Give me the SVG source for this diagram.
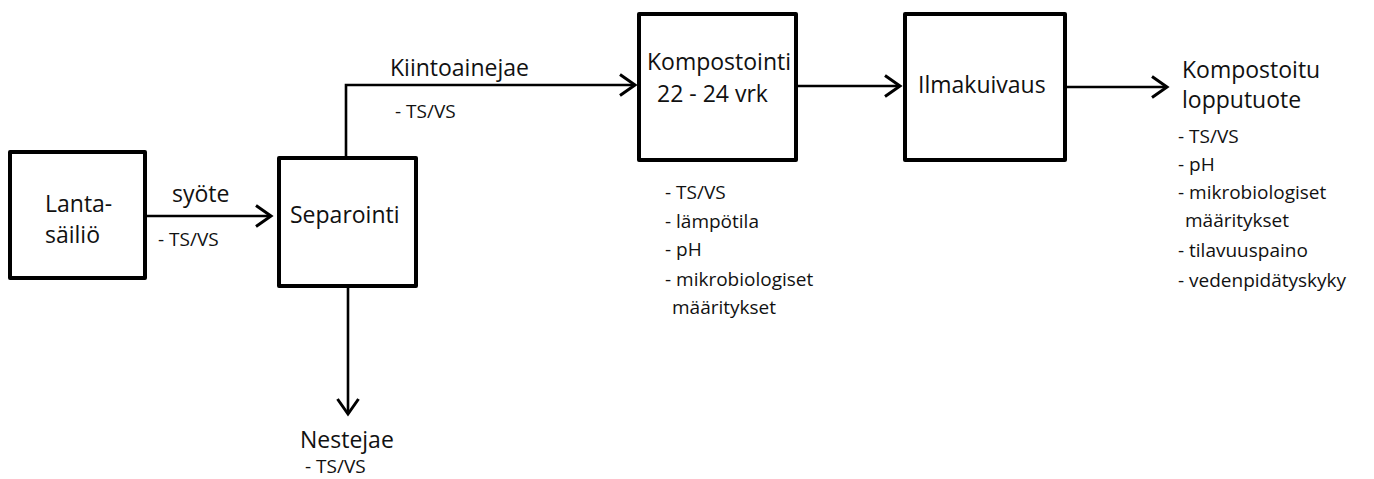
<svg xmlns="http://www.w3.org/2000/svg" width="1374" height="479" viewBox="0 0 1374 479">
<style>
.box{fill:#fff;stroke:#000;stroke-width:4;stroke-linejoin:round}
.con{fill:none;stroke:#000;stroke-width:2.6}
.big{font-family:"Open Sans","Noto Sans",sans-serif;font-size:23px;fill:#111}
.sm{font-family:"Open Sans","Noto Sans",sans-serif;font-size:19px;fill:#111}
</style>
<defs>
<marker id="ah" markerUnits="userSpaceOnUse" markerWidth="30" markerHeight="30" viewBox="-20 -15 25 30" refX="0" refY="0" orient="auto">
<path d="M -15 -10.5 L 0 0 L -15 10.5" fill="none" stroke="#000" stroke-width="3" stroke-linejoin="miter"/>
</marker>
</defs>
<rect width="1374" height="479" fill="#fff"/>
<g id="connectors">
<path class="con" d="M 145 216 L 271 216" marker-end="url(#ah)"/>
<path class="con" d="M 346 158 L 346 85 L 635 85" marker-end="url(#ah)"/>
<path class="con" d="M 348 287 L 348 414" marker-end="url(#ah)"/>
<path class="con" d="M 798 86 L 900 86" marker-end="url(#ah)"/>
<path class="con" d="M 1067 87 L 1167 87" marker-end="url(#ah)"/>
</g>
<g id="lanta">
<rect class="box" x="10" y="152" width="135" height="126"/>
<text class="big" x="45" y="212">Lanta-</text>
<text class="big" x="45" y="243">säiliö</text>
</g>
<g id="separointi">
<rect class="box" x="279" y="158" width="137" height="128"/>
<text class="big" x="290" y="223">Separointi</text>
</g>
<g id="kompostointi">
<rect class="box" x="639" y="14" width="157" height="146"/>
<text class="big" x="647" y="70">Kompostointi</text>
<text class="big" x="657" y="102">22 - 24 vrk</text>
</g>
<g id="ilmakuivaus">
<rect class="box" x="905" y="14" width="160" height="146"/>
<text class="big" x="918" y="93">Ilmakuivaus</text>
</g>
<g id="labels">
<text class="big" x="172" y="202">syöte</text>
<text class="sm" x="158" y="246">- TS/VS</text>
<text class="big" x="390" y="76">Kiintoainejae</text>
<text class="sm" x="395" y="118">- TS/VS</text>
<text class="big" x="300" y="448">Nestejae</text>
<text class="sm" x="305" y="473">- TS/VS</text>
</g>
<g id="kompostointi-list">
<text class="sm" x="665" y="199">- TS/VS</text>
<text class="sm" x="665" y="228">- lämpötila</text>
<text class="sm" x="665" y="256">- pH</text>
<text class="sm" x="665" y="286">- mikrobiologiset</text>
<text class="sm" x="672" y="314">määritykset</text>
</g>
<g id="lopputuote">
<text class="big" x="1182" y="78">Kompostoitu</text>
<text class="big" x="1182" y="108">lopputuote</text>
<text class="sm" x="1178" y="143">- TS/VS</text>
<text class="sm" x="1178" y="171">- pH</text>
<text class="sm" x="1178" y="199">- mikrobiologiset</text>
<text class="sm" x="1185" y="227">määritykset</text>
<text class="sm" x="1178" y="257">- tilavuuspaino</text>
<text class="sm" x="1178" y="287">- vedenpidätyskyky</text>
</g>
</svg>
